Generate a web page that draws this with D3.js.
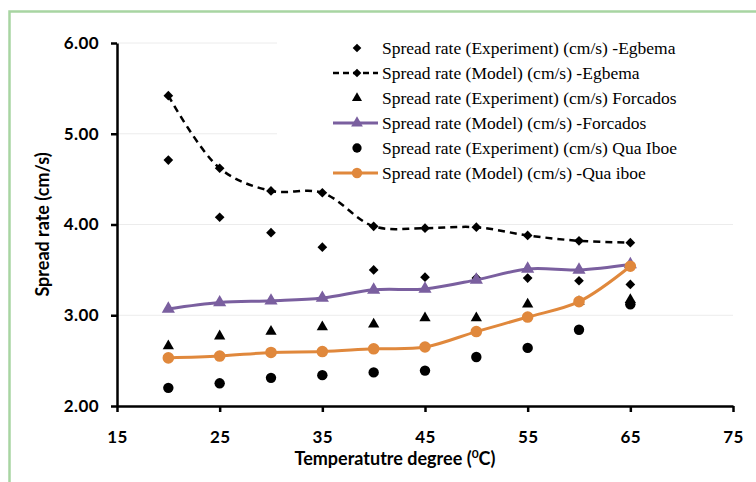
<!DOCTYPE html>
<html>
<head>
<meta charset="utf-8">
<script src="https://cdn.jsdelivr.net/npm/d3@7"></script>
<style>
  html, body { margin: 0; padding: 0; background: #fff; }
  svg { display: block; }
</style>
</head>
<body>
<div id="chart"></div>
<script>
// Data
const temperatures = [20, 25, 30, 35, 40, 45, 50, 55, 60, 65];
const egbemaExp = [4.71, 4.08, 3.91, 3.75, 3.50, 3.42, 3.41, 3.41, 3.38, 3.34];
const egbemaModel = [5.42, 4.62, 4.37, 4.35, 3.98, 3.96, 3.97, 3.88, 3.82, 3.80];
const forcadosExp = [2.66, 2.77, 2.82, 2.87, 2.90, 2.97, 2.97, 3.12, 3.15, 3.17];
const forcadosModel = [3.07, 3.14, 3.16, 3.19, 3.28, 3.29, 3.39, 3.51, 3.50, 3.56];
const quaIboeExp = [2.20, 2.25, 2.31, 2.34, 2.37, 2.39, 2.54, 2.64, 2.84, 3.12];
const quaIboeModel = [2.53, 2.55, 2.59, 2.60, 2.63, 2.65, 2.82, 2.98, 3.15, 3.54];
const xTicks = [15, 25, 35, 45, 55, 65, 75];
const yTicks = [2, 3, 4, 5, 6];

const seriesList = [
    { name: "Spread rate (Experiment) (cm/s) -Egbema", values: egbemaExp, symbol: d3.symbolDiamond2, size: 60, fill: "#000", line: null },
    { name: "Spread rate (Model) (cm/s) -Egbema", values: egbemaModel, symbol: d3.symbolDiamond2, size: 60, fill: "#000", line: { color: "#000", width: 2.5, dash: "7,5" } },
    { name: "Spread rate (Experiment) (cm/s) Forcados", values: forcadosExp, symbol: d3.symbolTriangle, size: 55, fill: "#000", line: null },
    { name: "Spread rate (Model) (cm/s) -Forcados", values: forcadosModel, symbol: d3.symbolTriangle, size: 75, fill: "#7a5f9f", line: { color: "#7a5f9f", width: 3, dash: null } },
    { name: "Spread rate (Experiment) (cm/s) Qua Iboe", values: quaIboeExp, symbol: d3.symbolCircle, size: 85, fill: "#000", line: null },
    { name: "Spread rate (Model) (cm/s) -Qua iboe", values: quaIboeModel, symbol: d3.symbolCircle, size: 105, fill: "#e0883c", line: { color: "#e0883c", width: 3, dash: null } }
];

const W = 756, H = 482;
const plot = { left: 117, right: 733, top: 43, bottom: 406 };

const svg = d3.select("#chart").append("svg")
    .attr("width", W)
    .attr("height", H);

// outer chart border (light green)
svg.append("rect")
    .attr("x", 9.5).attr("y", 11.5)
    .attr("width", W + 20).attr("height", H + 20)
    .attr("fill", "#fff")
    .attr("stroke", "#a8d5a2")
    .attr("stroke-width", 2.5);

const x = d3.scaleLinear().domain([15, 75]).range([plot.left, plot.right]);
const y = d3.scaleLinear().domain([2, 6]).range([plot.bottom, plot.top]);

// gridlines
svg.append("g")
    .selectAll("line")
    .data(yTicks.filter(d => d > 2))
    .join("line")
    .attr("x1", plot.left).attr("x2", plot.right)
    .attr("y1", d => y(d)).attr("y2", d => y(d))
    .attr("stroke", "#ececec")
    .attr("stroke-width", 1);

// legend background (sits over gridlines, under data)
svg.append("rect")
    .attr("x", 277).attr("y", 30)
    .attr("width", 457).attr("height", 156)
    .attr("fill", "#fff");

// axes
const axisFont = "Lato, 'Open Sans', sans-serif";

svg.append("g")
    .attr("transform", `translate(0,${plot.bottom})`)
    .call(d3.axisBottom(x).tickValues(xTicks).tickSize(6).tickSizeOuter(0).tickPadding(19))
    .call(g => g.select(".domain").attr("stroke-width", 2.5))
    .call(g => g.selectAll(".tick line").attr("stroke-width", 2.5))
    .call(g => g.selectAll("text")
        .attr("fill", "#000")
        .style("font-family", axisFont)
        .style("font-size", "17px")
        .style("font-weight", "bold")
        .style("letter-spacing", "0.4px"));

svg.append("g")
    .attr("transform", `translate(${plot.left},0)`)
    .call(d3.axisLeft(y).tickValues(yTicks).tickFormat(d3.format(".2f")).tickSize(6).tickSizeOuter(0).tickPadding(12))
    .call(g => g.select(".domain").attr("stroke-width", 2.5))
    .call(g => g.selectAll(".tick line").attr("stroke-width", 2.5))
    .call(g => g.selectAll("text")
        .attr("fill", "#000")
        .style("font-family", axisFont)
        .style("font-size", "17px")
        .style("font-weight", "bold")
        .style("letter-spacing", "0.4px"));

// axis titles
const xTitle = svg.append("text")
    .attr("x", 395).attr("y", 465)
    .attr("text-anchor", "middle")
    .style("font-family", axisFont)
    .style("font-size", "18px")
    .style("font-weight", "bold");
xTitle.append("tspan").text("Temperatutre degree (");
xTitle.append("tspan").attr("baseline-shift", "super").style("font-size", "12px").text("0");
xTitle.append("tspan").text("C)");

svg.append("text")
    .attr("transform", `translate(49,${(plot.top + plot.bottom) / 2}) rotate(-90)`)
    .attr("text-anchor", "middle")
    .style("font-family", axisFont)
    .style("font-size", "18px")
    .style("font-weight", "bold")
    .text("Spread rate (cm/s)");

// series
const lineGen = d3.line()
    .x((d, i) => x(temperatures[i]))
    .y(d => y(d))
    .curve(d3.curveCatmullRom.alpha(0.5));

seriesList.forEach(s => {
    if (s.line) {
        svg.append("path")
            .datum(s.values)
            .attr("fill", "none")
            .attr("stroke", s.line.color)
            .attr("stroke-width", s.line.width)
            .attr("stroke-dasharray", s.line.dash)
            .attr("d", lineGen);
    }
    svg.append("g")
        .selectAll("path")
        .data(s.values)
        .join("path")
        .attr("transform", (d, i) => `translate(${x(temperatures[i])},${y(d)})`)
        .attr("d", d3.symbol(s.symbol, s.size))
        .attr("fill", s.fill);
});

// legend
const legend = svg.append("g").attr("transform", "translate(333,48)");
const rowH = 25;
seriesList.forEach((s, i) => {
    const row = legend.append("g").attr("transform", `translate(0,${i * rowH})`);
    if (s.line) {
        row.append("line")
            .attr("x1", 0).attr("x2", 45)
            .attr("stroke", s.line.color)
            .attr("stroke-width", s.line.width)
            .attr("stroke-dasharray", s.line.dash ? "6,4" : null);
    }
    row.append("path")
        .attr("transform", "translate(24,0)")
        .attr("d", d3.symbol(s.symbol, s.size * 0.8))
        .attr("fill", s.fill);
    row.append("text")
        .attr("x", 49).attr("y", 6)
        .style("font-family", "'Liberation Serif', 'Times New Roman', serif")
        .style("font-size", "17.5px")
        .attr("fill", "#000")
        .text(s.name);
});
</script>
</body>
</html>
